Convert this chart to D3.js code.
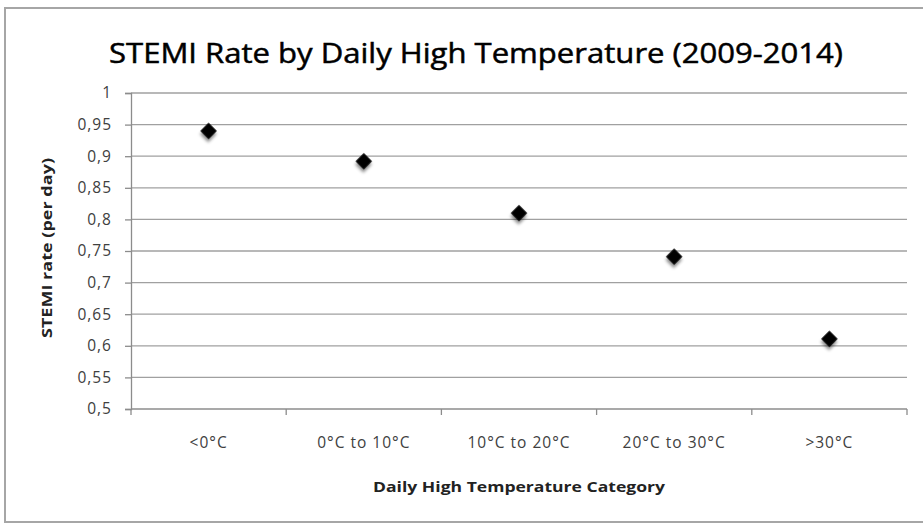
<!DOCTYPE html>
<html>
<head>
<meta charset="utf-8">
<script src="https://cdn.jsdelivr.net/npm/d3@7"></script>
<style>
  body { margin: 0; background: #fff; }
  svg text { font-family: "Open Sans", "DejaVu Sans", sans-serif; }
</style>
</head>
<body>
<div id="chart"></div>
<script>
// data
var categories = ["<0°C", "0°C to 10°C", "10°C to 20°C", "20°C to 30°C", ">30°C"];
var rates = [0.94, 0.892, 0.81, 0.741, 0.611];
var yTicks = [0.5, 0.55, 0.6, 0.65, 0.7, 0.75, 0.8, 0.85, 0.9, 0.95, 1];

var width = 923, height = 524;
var margin = {top: 93, right: 16, bottom: 115, left: 131};

var svg = d3.select("#chart").append("svg")
  .attr("width", width)
  .attr("height", height);

// drop shadow for the markers
var filter = svg.append("defs").append("filter")
  .attr("id", "shadow")
  .attr("x", "-50%").attr("y", "-50%")
  .attr("width", "200%").attr("height", "200%");
filter.append("feDropShadow")
  .attr("dx", 2).attr("dy", 2.5)
  .attr("stdDeviation", 1.6)
  .attr("flood-color", "#000")
  .attr("flood-opacity", 0.45);

// chart frame
svg.append("rect")
  .attr("x", 5).attr("y", 8)
  .attr("width", 930).attr("height", 514)
  .attr("fill", "#fff")
  .attr("stroke", "#a6a6a6")
  .attr("stroke-width", 2);

var x = d3.scaleBand()
  .domain(categories)
  .range([margin.left, width - margin.right]);

var y = d3.scaleLinear()
  .domain([0.5, 1])
  .range([height - margin.bottom, margin.top]);

var fmt = function(d) { return d3.format("")(+d.toFixed(2)).replace(".", ","); };

// gridlines
svg.append("g")
  .selectAll("line")
  .data(yTicks.filter(function(d) { return d > 0.5; }))
  .join("line")
  .attr("x1", margin.left).attr("x2", width - margin.right)
  .attr("y1", function(d) { return y(d); })
  .attr("y2", function(d) { return y(d); })
  .attr("stroke", "#a0a0a0")
  .attr("stroke-width", 1.3);

// y axis
var yAxis = svg.append("g")
  .attr("transform", "translate(" + margin.left + ",0)")
  .call(d3.axisLeft(y).tickValues(yTicks).tickFormat(fmt).tickSize(6).tickPadding(13));
yAxis.select(".domain").attr("stroke", "#8c8c8c").attr("stroke-width", 1.3);
yAxis.selectAll(".tick line").attr("stroke", "#8c8c8c").attr("stroke-width", 1.3);
yAxis.selectAll(".tick text")
  .attr("fill", "#404040")
  .style("font-size", "15.5px")
  .style("letter-spacing", "1px");

// x axis, ticks between categories
var xAxis = svg.append("g")
  .attr("transform", "translate(0," + (height - margin.bottom) + ")");
xAxis.append("line")
  .attr("x1", margin.left).attr("x2", width - margin.right)
  .attr("stroke", "#8c8c8c").attr("stroke-width", 1.3);
var bounds = categories.map(function(c) { return x(c); }).concat([width - margin.right]);
xAxis.selectAll(".sep")
  .data(bounds)
  .join("line")
  .attr("class", "sep")
  .attr("x1", function(d) { return d; }).attr("x2", function(d) { return d; })
  .attr("y1", 0).attr("y2", 6)
  .attr("stroke", "#8c8c8c").attr("stroke-width", 1.3);
xAxis.selectAll(".lbl")
  .data(categories)
  .join("text")
  .attr("class", "lbl")
  .attr("x", function(d) { return x(d) + x.bandwidth() / 2; })
  .attr("y", 39)
  .attr("text-anchor", "middle")
  .attr("fill", "#404040")
  .style("font-size", "15.5px")
  .style("letter-spacing", "1px")
  .text(function(d) { return d; });

// points
svg.append("g")
  .selectAll("path")
  .data(rates)
  .join("path")
  .attr("d", d3.symbol().type(d3.symbolSquare).size(135))
  .attr("transform", function(d, i) {
    return "translate(" + (x(categories[i]) + x.bandwidth() / 2) + "," + y(d) + ") rotate(45)";
  })
  .attr("fill", "#000")
  .attr("filter", "url(#shadow)");

// titles
svg.append("text")
  .attr("x", 476).attr("y", 63)
  .attr("text-anchor", "middle")
  .attr("fill", "#000")
  .attr("stroke", "#000")
  .attr("stroke-width", 0.5)
  .attr("textLength", 734)
  .attr("lengthAdjust", "spacingAndGlyphs")
  .style("font-size", "28px")
  .text("STEMI Rate by Daily High Temperature (2009-2014)");

svg.append("text")
  .attr("x", (margin.left + width - margin.right) / 2).attr("y", 492)
  .attr("text-anchor", "middle")
  .attr("fill", "#222")
  .attr("textLength", 292)
  .attr("lengthAdjust", "spacingAndGlyphs")
  .style("font-size", "14.5px")
  .style("font-weight", "bold")
  .text("Daily High Temperature Category");

svg.append("text")
  .attr("transform", "translate(52,248) rotate(-90)")
  .attr("text-anchor", "middle")
  .attr("fill", "#222")
  .attr("textLength", 180)
  .attr("lengthAdjust", "spacingAndGlyphs")
  .style("font-size", "14px")
  .style("font-weight", "bold")
  .text("STEMI rate (per day)");
</script>
</body>
</html>
